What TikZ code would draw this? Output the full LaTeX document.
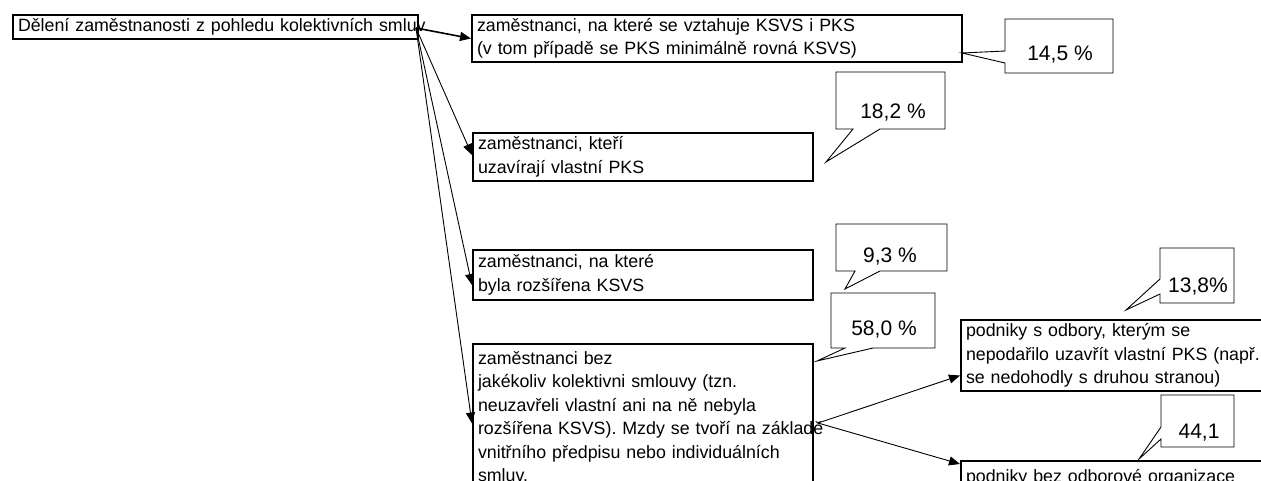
\documentclass[tikz,border=0pt]{standalone}
\usepackage{fontspec}
\setmainfont{Liberation Sans}
\usetikzlibrary{arrows.meta}
\newcommand{\boxfont}{\fontsize{17.8}{23.5}\selectfont}
\newcommand{\numfont}{\fontsize{21}{25}\selectfont}

\begin{document}
\begin{tikzpicture}[x=1pt,y=-1pt,
		box/.style={draw, line width=2pt, anchor=north west, align=left, inner xsep=5pt, inner ysep=0pt, font=\boxfont},
		callout/.style={draw, line width=0.9pt},
		num/.style={font=\numfont, inner sep=0pt},
		link/.style={line width=0.9pt, -{Triangle[length=11pt,width=9pt]}}]
		\useasboundingbox (0,0) rectangle (1261,480);
		\clip (0,0) rectangle (1261,480);
		\node[box, text width=395pt, minimum height=24pt] (root) at (12,14) {\mbox{Dělení zaměstnanosti z pohledu kolektivních smluv}};
		\node[box, text width=480pt, minimum height=47pt] (boxA) at (471,14) {zaměstnanci, na které se vztahuje KSVS i PKS\\(v tom případě se PKS minimálně rovná KSVS)};
		\node[box, text width=330pt, minimum height=48pt] (boxB) at (472,132) {zaměstnanci, kteří\\uzavírají vlastní PKS};
		\node[box, text width=330pt, minimum height=50pt] (boxC) at (472,249) {zaměstnanci, na které\\byla rozšířena KSVS};
		\node[box, text width=330pt, minimum height=145pt] (boxD) at (472,343) {zaměstnanci bez\\jakékoliv kolektivni smlouvy (tzn.\\neuzavřeli vlastní ani na ně nebyla\\\mbox{rozšířena KSVS). Mzdy se tvoří na základě}\\vnitřního předpisu nebo individuálních\\smluv.};
		\node[box, text width=310pt, minimum height=71pt] (boxE) at (960,319) {podniky s odbory, kterým se\\nepodařilo uzavřít vlastní PKS (např.\\se nedohodly s druhou stranou)};
		\node[box, text width=310pt, minimum height=34pt] (boxF) at (960,460) {podniky bez odborové organizace};

		\coordinate (rootout) at (416,28);
		\coordinate (dout) at (818,423);
		\draw[link, line width=1.6pt] (rootout) -- (boxA.west);
		\draw[link] (rootout) -- ([yshift=2pt]boxB.west);
		\draw[link] (rootout) -- ([yshift=-10pt]boxC.west);
		\draw[link] (rootout) -- ([yshift=-7pt]boxD.west);
		\draw[link] (dout) -- ([yshift=-20pt]boxE.west);
		\draw[link] (dout) -- ([yshift=-4pt]boxF.north west);

		\draw[callout] (1005,19) -- (1113,19) -- (1113,73) -- (1005,73) -- (1005,63) -- (962,53) -- (1005,51) -- cycle;
		\node[num] (p145) at (1060,55) {14,5 \%};
		\draw[callout] (836,72) -- (945,72) -- (945,129) -- (880,129) -- (826,162) -- (853,129) -- (836,129) -- cycle;
		\node[num] (p182) at (893,113) {18,2 \%};
		\draw[callout] (836,224) -- (947,224) -- (947,271) -- (880,271) -- (845,289) -- (855,271) -- (836,271) -- cycle;
		\node[num] (p93) at (890,257) {9,3 \%};
		\draw[callout] (831,293) -- (935,293) -- (935,348) -- (873,348) -- (817,361) -- (845,348) -- (831,348) -- cycle;
		\node[num] (p580) at (884,330) {58,0 \%};
		\draw[callout] (1160,248) -- (1234,248) -- (1234,303) -- (1160,303) -- (1160,294) -- (1126,310) -- (1160,279) -- cycle;
		\node[num] (p138) at (1198,287) {13,8\%};
		\draw[callout] (1161,395) -- (1234,395) -- (1234,447) -- (1161,447) -- (1161,439) -- (1139,459) -- (1161,427) -- cycle;
		\node[num] (p441) at (1199,433) {44,1};
	\end{tikzpicture}
\end{document}
